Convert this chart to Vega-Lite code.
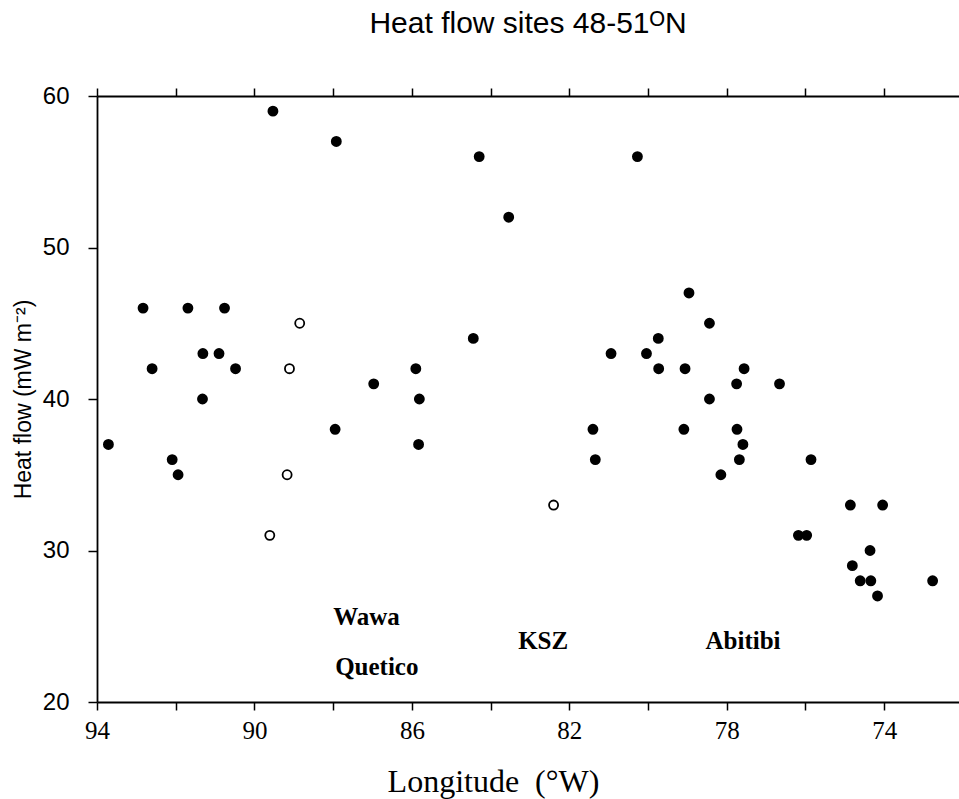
{
  "$schema": "https://vega.github.io/schema/vega-lite/v6.json",
  "autosize": {"type": "none"},
  "padding": {"left": 97, "top": 96, "right": 0, "bottom": 97},
  "width": 862,
  "height": 606,
  "background": "white",
  "config": {"view": {"stroke": null}, "axis": {"grid": false, "domainColor": "black", "tickColor": "black", "labelColor": "black", "titleColor": "black"}},
  "title": {"text": "Heat flow sites 48-51ᴼN", "font": "Liberation Sans", "fontSize": 30, "fontWeight": "normal", "color": "black", "anchor": "middle", "offset": 45},
  "datasets": {
    "sites": [
      {"lon": 93.71, "hf": 37, "type": "filled"},
      {"lon": 92.83, "hf": 46, "type": "filled"},
      {"lon": 92.60, "hf": 42, "type": "filled"},
      {"lon": 92.09, "hf": 36, "type": "filled"},
      {"lon": 91.94, "hf": 35, "type": "filled"},
      {"lon": 91.69, "hf": 46, "type": "filled"},
      {"lon": 91.31, "hf": 43, "type": "filled"},
      {"lon": 90.90, "hf": 43, "type": "filled"},
      {"lon": 91.32, "hf": 40, "type": "filled"},
      {"lon": 90.76, "hf": 46, "type": "filled"},
      {"lon": 90.48, "hf": 42, "type": "filled"},
      {"lon": 89.53, "hf": 59, "type": "filled"},
      {"lon": 89.61, "hf": 31, "type": "open"},
      {"lon": 89.17, "hf": 35, "type": "open"},
      {"lon": 89.11, "hf": 42, "type": "open"},
      {"lon": 88.85, "hf": 45, "type": "open"},
      {"lon": 87.92, "hf": 57, "type": "filled"},
      {"lon": 84.29, "hf": 56, "type": "filled"},
      {"lon": 80.27, "hf": 56, "type": "filled"},
      {"lon": 83.54, "hf": 52, "type": "filled"},
      {"lon": 84.44, "hf": 44, "type": "filled"},
      {"lon": 80.94, "hf": 43, "type": "filled"},
      {"lon": 80.04, "hf": 43, "type": "filled"},
      {"lon": 85.90, "hf": 42, "type": "filled"},
      {"lon": 86.97, "hf": 41, "type": "filled"},
      {"lon": 85.81, "hf": 40, "type": "filled"},
      {"lon": 87.95, "hf": 38, "type": "filled"},
      {"lon": 85.83, "hf": 37, "type": "filled"},
      {"lon": 81.40, "hf": 38, "type": "filled"},
      {"lon": 81.34, "hf": 36, "type": "filled"},
      {"lon": 78.96, "hf": 47, "type": "filled"},
      {"lon": 78.44, "hf": 45, "type": "filled"},
      {"lon": 79.74, "hf": 44, "type": "filled"},
      {"lon": 79.73, "hf": 42, "type": "filled"},
      {"lon": 79.06, "hf": 42, "type": "filled"},
      {"lon": 77.56, "hf": 42, "type": "filled"},
      {"lon": 77.75, "hf": 41, "type": "filled"},
      {"lon": 76.66, "hf": 41, "type": "filled"},
      {"lon": 78.44, "hf": 40, "type": "filled"},
      {"lon": 79.09, "hf": 38, "type": "filled"},
      {"lon": 77.74, "hf": 38, "type": "filled"},
      {"lon": 77.59, "hf": 37, "type": "filled"},
      {"lon": 77.68, "hf": 36, "type": "filled"},
      {"lon": 75.86, "hf": 36, "type": "filled"},
      {"lon": 78.15, "hf": 35, "type": "filled"},
      {"lon": 82.40, "hf": 33, "type": "open"},
      {"lon": 74.86, "hf": 33, "type": "filled"},
      {"lon": 74.04, "hf": 33, "type": "filled"},
      {"lon": 76.18, "hf": 31, "type": "filled"},
      {"lon": 75.97, "hf": 31, "type": "filled"},
      {"lon": 74.36, "hf": 30, "type": "filled"},
      {"lon": 74.81, "hf": 29, "type": "filled"},
      {"lon": 74.61, "hf": 28, "type": "filled"},
      {"lon": 74.34, "hf": 28, "type": "filled"},
      {"lon": 74.17, "hf": 27, "type": "filled"},
      {"lon": 72.77, "hf": 28, "type": "filled"}
    ],
    "labels": [
      {"lon": 88.0, "hf": 25.1, "name": "Wawa"},
      {"lon": 87.95, "hf": 21.8, "name": "Quetico"},
      {"lon": 83.3, "hf": 23.5, "name": "KSZ"},
      {"lon": 78.54, "hf": 23.5, "name": "Abitibi"}
    ]
  },
  "resolve": {"axis": {"x": "independent", "y": "independent"}},
  "layer": [
    {
      "data": {"name": "sites"},
      "mark": {"type": "point", "shape": "circle", "filled": true, "stroke": "black", "strokeWidth": 1.8, "size": 82, "opacity": 1},
      "encoding": {
        "x": {"field": "lon", "type": "quantitative",
          "scale": {"domain": [72.1, 94], "reverse": true, "nice": false, "zero": false},
          "axis": {"orient": "bottom", "values": [94, 92, 90, 88, 86, 84, 82, 80, 78, 76, 74],
            "labelExpr": "(94 - datum.value) % 4 == 0 ? datum.label : ''",
            "title": "Longitude\u00a0\u00a0(°W)", "titleFont": "Liberation Serif", "titleFontSize": 32, "titleFontWeight": "normal",
            "titlePadding": 23, "titleX": 396, "titleAnchor": "middle",
            "labelFont": "Liberation Serif", "labelFontSize": 25, "labelPadding": 8,
            "tickSize": 8, "tickWidth": 1.5, "domainWidth": 1.8, "labelFlush": false, "labelOverlap": false}},
        "y": {"field": "hf", "type": "quantitative",
          "scale": {"domain": [20, 60], "nice": false, "zero": false},
          "axis": {"orient": "left", "values": [20, 30, 40, 50, 60],
            "title": "Heat flow (mW m⁻²)", "titleFont": "Liberation Sans", "titleFontSize": 23, "titleFontWeight": "normal",
            "titlePadding": 7,
            "labelFont": "Liberation Sans", "labelFontSize": 24, "labelPadding": 19,
            "tickSize": 9, "tickWidth": 1.5, "domainWidth": 1.8, "labelFlush": false, "labelOverlap": false}},
        "fill": {"field": "type", "type": "nominal", "scale": {"domain": ["filled", "open"], "range": ["black", "white"]}, "legend": null}
      }
    },
    {
      "data": {"name": "labels"},
      "mark": {"type": "text", "font": "Liberation Serif", "fontSize": 25, "fontWeight": "bold", "align": "left", "baseline": "alphabetic", "color": "black"},
      "encoding": {
        "x": {"field": "lon", "type": "quantitative",
          "axis": {"orient": "top", "values": [94, 92, 90, 88, 86, 84, 82, 80, 78, 76, 74], "labels": false, "title": null,
            "tickSize": 8, "tickWidth": 1.5, "domainWidth": 1.8}},
        "y": {"field": "hf", "type": "quantitative", "axis": null},
        "text": {"field": "name"}
      }
    }
  ]
}
